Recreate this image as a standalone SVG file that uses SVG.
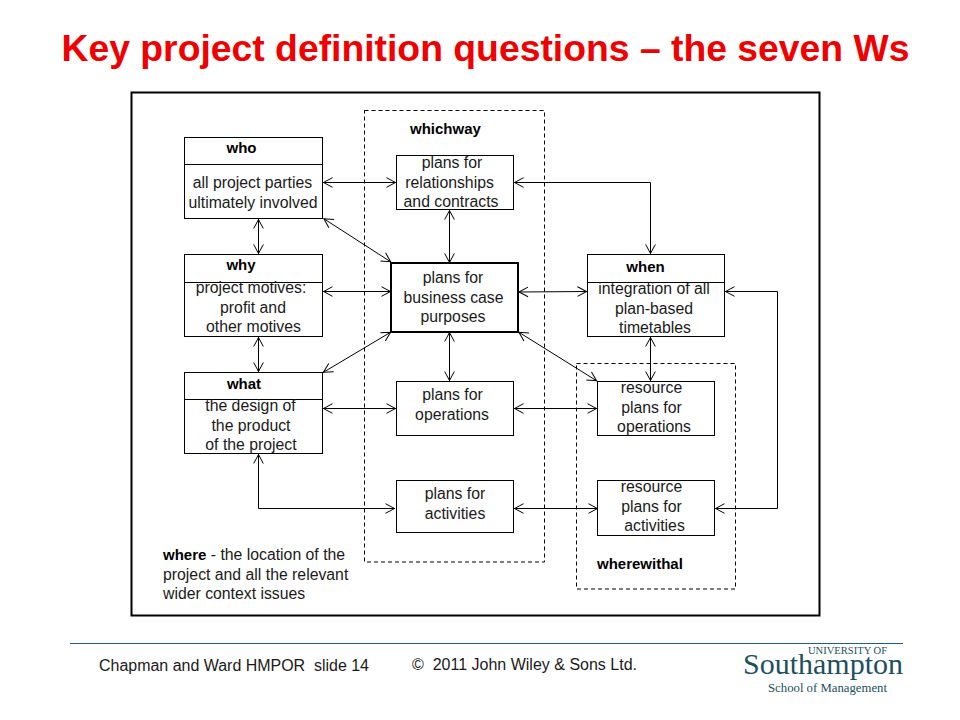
<svg xmlns="http://www.w3.org/2000/svg" width="960" height="720" viewBox="0 0 960 720">
<style>
text{font-family:"Liberation Sans",Arial,sans-serif;fill:#1a1a1a;font-size:15.8px}
.m{text-anchor:middle}
.b{font-weight:bold;fill:#000;font-size:15px}
.box{fill:#fff;stroke:#000;stroke-width:1}
.dash{fill:none;stroke:#000;stroke-width:1;stroke-dasharray:4 3}
.c{fill:none;stroke:#000;stroke-width:1;marker-start:url(#a);marker-end:url(#a)}
.foot{font-size:16px}
.logo{font-family:"Liberation Serif",serif;fill:#1d4f5f}
</style>
<defs>
<marker id="a" markerUnits="userSpaceOnUse" markerWidth="14" markerHeight="14" refX="11" refY="7" orient="auto-start-reverse">
<path d="M1.5 2.2L10.5 7L1.5 11.8" fill="none" stroke="#000" stroke-width="1"/>
</marker>
</defs>
<rect width="960" height="720" fill="#fff"/>
<text id="title" x="485.5" y="61" class="m b" style="font-size:36px;fill:#f00000" textLength="848" lengthAdjust="spacingAndGlyphs">Key project definition questions – the seven Ws</text>
<rect id="frame" x="131.500" y="92.500" width="688" height="523" fill="#fff" stroke="#000" stroke-width="2"/>
<g id="whichway">
<rect class="dash" x="364.500" y="110.500" width="180" height="451.500"/>
<text class="b" x="410" y="134">whichway</text>
</g>
<g id="wherewithal">
<rect class="dash" x="576.500" y="363.500" width="159" height="225.500"/>
<text class="b" x="597" y="569">wherewithal</text>
</g>
<g id="who">
<rect class="box" x="184.500" y="137.500" width="138" height="81"/>
<path class="box" d="M184.500 164.500H322.500"/>
<text class="m b" x="241.500" y="153">who</text>
<text class="m" x="252.500" y="188">all project parties</text>
<text class="m" x="253" y="208">ultimately involved</text>
</g>
<g id="why">
<rect class="box" x="184.500" y="254.500" width="138" height="82"/>
<path class="box" d="M184.500 282.500H322.500"/>
<text class="m b" x="241" y="270">why</text>
<text class="m" x="251" y="293">project motives:</text>
<text class="m" x="253" y="313">profit and</text>
<text class="m" x="253.500" y="332">other motives</text>
</g>
<g id="what">
<rect class="box" x="184.500" y="372.500" width="138" height="81"/>
<path class="box" d="M184.500 399.500H322.500"/>
<text class="m b" x="244" y="389">what</text>
<text class="m" x="250.500" y="411">the design of</text>
<text class="m" x="251" y="431">the product</text>
<text class="m" x="251" y="450">of the project</text>
</g>
<g id="relationships">
<rect class="box" x="396.500" y="155.500" width="117" height="54"/>
<text class="m" x="452" y="168">plans for</text>
<text class="m" x="449.500" y="188">relationships</text>
<text class="m" x="451" y="207">and contracts</text>
</g>
<g id="business-case">
<rect x="391" y="263" width="127" height="69" fill="#fff" stroke="#000" stroke-width="2"/>
<text class="m" x="453" y="283">plans for</text>
<text class="m" x="453.500" y="303">business case</text>
<text class="m" x="453" y="322">purposes</text>
</g>
<g id="operations">
<rect class="box" x="396.500" y="381.500" width="117" height="54"/>
<text class="m" x="452.500" y="400">plans for</text>
<text class="m" x="452" y="420">operations</text>
</g>
<g id="activities">
<rect class="box" x="396.500" y="480.500" width="117" height="52"/>
<text class="m" x="455" y="499">plans for</text>
<text class="m" x="455" y="519">activities</text>
</g>
<g id="when">
<rect class="box" x="587.500" y="254.500" width="137" height="82"/>
<path class="box" d="M587.500 282.500H724.500"/>
<text class="m b" x="645.500" y="272">when</text>
<text class="m" x="654" y="294">integration of all</text>
<text class="m" x="654" y="314">plan-based</text>
<text class="m" x="655" y="333">timetables</text>
</g>
<g id="resource-operations">
<rect class="box" x="597.500" y="381.500" width="117" height="54"/>
<text class="m" x="651.500" y="393">resource</text>
<text class="m" x="651.500" y="413">plans for</text>
<text class="m" x="654" y="432">operations</text>
</g>
<g id="resource-activities">
<rect class="box" x="597.500" y="480.500" width="117" height="55"/>
<text class="m" x="651.500" y="492">resource</text>
<text class="m" x="651.500" y="512">plans for</text>
<text class="m" x="654.500" y="531">activities</text>
</g>
<g id="connectors">
<path class="c" d="M323 182.500H396"/>
<path class="c" d="M323.500 218.500L391 262"/>
<path class="c" d="M258.500 219V254"/>
<path class="c" d="M323 291.500H391"/>
<path class="c" d="M258.500 337V372"/>
<path class="c" d="M323 372.500L391 332"/>
<path class="c" d="M323 408.500H396"/>
<path class="c" d="M258.500 454V508.500H395"/>
<path class="c" d="M449.500 210V263"/>
<path class="c" d="M449.500 332V381"/>
<path class="c" d="M514 182.500H650.500V254"/>
<path class="c" d="M518.500 292L587 291.500"/>
<path class="c" d="M518.500 332L597 381"/>
<path class="c" d="M514 408.500H597"/>
<path class="c" d="M514 508.500H598"/>
<path class="c" d="M650.500 337V381"/>
<path class="c" d="M725 291.500H777.500V508.500H715"/>
</g>
<g id="where">
<text x="163" y="560"><tspan class="b">where</tspan> - the location of the</text>
<text x="163" y="580">project and all the relevant</text>
<text x="163" y="599">wider context issues</text>
</g>
<g id="footer">
<path d="M70 643.500H903" stroke="#1f5f8f" stroke-width="1" fill="none"/>
<text class="foot" x="99" y="671" textLength="270" lengthAdjust="spacingAndGlyphs" xml:space="preserve">Chapman and Ward HMPOR  slide 14</text>
<text class="foot" x="412" y="670" textLength="225" lengthAdjust="spacingAndGlyphs" xml:space="preserve">©  2011 John Wiley &amp; Sons Ltd.</text>
</g>
<g id="logo">
<text class="logo" x="808" y="653.500" style="font-size:11px" textLength="79" lengthAdjust="spacingAndGlyphs">UNIVERSITY OF</text>
<text class="logo" x="743" y="674" style="font-size:29px" textLength="160" lengthAdjust="spacingAndGlyphs">Southampton</text>
<text class="logo" x="768" y="692" style="font-size:12px" textLength="119" lengthAdjust="spacingAndGlyphs">School of Management</text>
</g>
</svg>
